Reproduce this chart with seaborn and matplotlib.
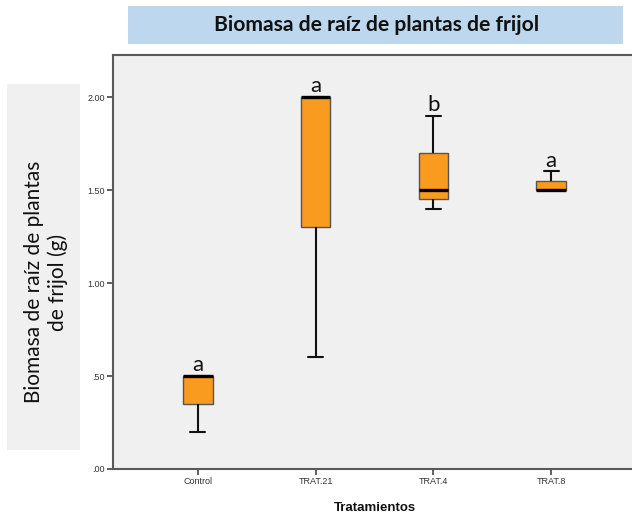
import matplotlib
matplotlib.use("Agg")
import matplotlib.pyplot as plt
from matplotlib.patches import Rectangle
from matplotlib.ticker import FuncFormatter
import numpy as np
import pandas as pd
import seaborn as sns

# Root biomass (g) per treatment
tratamientos = ["Control", "TRAT.21", "TRAT.4", "TRAT.8"]
control = [0.20, 0.35, 0.50, 0.50, 0.50]
trat_21 = [0.60, 1.30, 2.00, 2.00, 2.00]
trat_4 = [1.40, 1.45, 1.50, 1.70, 1.90]
trat_8 = [1.50, 1.50, 1.50, 1.55, 1.60]
letras = ["a", "a", "b", "a"]

grupos = [control, trat_21, trat_4, trat_8]
df = pd.DataFrame({
    "Tratamientos": np.repeat(tratamientos, [len(g) for g in grupos]),
    "Biomasa": np.concatenate(grupos),
})

sns.set_theme(style="white")
plt.rcParams["font.family"] = ["Liberation Sans", "DejaVu Sans"]

fig = plt.figure(figsize=(6.32, 5.14), dpi=100)
fig.patch.set_facecolor("white")

# plot area in pixel terms: left 113, top 55, bottom 469, right edge runs off the canvas
W, H = 632, 514
ax = fig.add_axes([113 / W, 1 - 469 / H, (636 - 113) / W, (469 - 55) / H])
ax.set_facecolor("#F0F0F0")

sns.boxplot(
    data=df, x="Tratamientos", y="Biomasa", order=tratamientos, ax=ax,
    color="#F99B1E", saturation=1, width=0.25, showfliers=False,
    linecolor="#555555", linewidth=1.0,
    medianprops=dict(color="black", linewidth=2.4),
    whiskerprops=dict(color="#111111", linewidth=1.5),
    capprops=dict(color="#111111", linewidth=1.5),
)

ax.set_xlim(-0.72, 3.72)
ax.set_ylim(0, 2.226)
ax.set_yticks([0, 0.5, 1.0, 1.5, 2.0])
ax.yaxis.set_major_formatter(FuncFormatter(lambda v, p: f"{v:.2f}".lstrip("0") if v < 1 else f"{v:.2f}"))

for side in ["left", "top", "bottom", "right"]:
    ax.spines[side].set_color("#5A5A5A")
    ax.spines[side].set_linewidth(1.5)

ax.tick_params(axis="both", direction="out", length=4, width=1.2, color="#444444",
               labelsize=6.5, labelcolor="#333333", pad=2)
ax.tick_params(axis="y", left=True)
ax.tick_params(axis="x", bottom=True)

ax.set_ylabel("")
ax.set_xlabel("Tratamientos", fontsize=9.5, fontweight="bold", color="#111111", labelpad=11)

# significance letters just above the top of each box/whisker
for i, (vals, letra) in enumerate(zip(grupos, letras)):
    ax.annotate(letra, xy=(i, max(vals)), xytext=(0, 3.5), textcoords="offset points",
                ha="center", va="baseline", fontsize=16, family=["Lato", "DejaVu Sans"],
                color="#111111")

# title banner
fig.patches.append(Rectangle((128 / W, 1 - 44 / H), 495 / W, 38.5 / H,
                             transform=fig.transFigure, facecolor="#BDD7EE",
                             edgecolor="none", zorder=0))
fig.text(377 / W, 1 - 25 / H, "Biomasa de raíz de plantas de frijol",
         ha="center", va="center", fontsize=15.2, fontweight="bold",
         family=["Lato", "DejaVu Sans"], color="#111111")

# y-axis label panel
fig.patches.append(Rectangle((7 / W, 1 - 450 / H), 73 / W, 366 / H,
                             transform=fig.transFigure, facecolor="#F0F0F0",
                             edgecolor="none", zorder=0))
fig.text(46 / W, 1 - 282 / H, "Biomasa de raíz de plantas\nde frijol (g)",
         ha="center", va="center", rotation=90, fontsize=15, linespacing=1.15,
         family=["Lato", "DejaVu Sans"], color="#111111", multialignment="center")

fig.savefig("out.png", dpi=100)
